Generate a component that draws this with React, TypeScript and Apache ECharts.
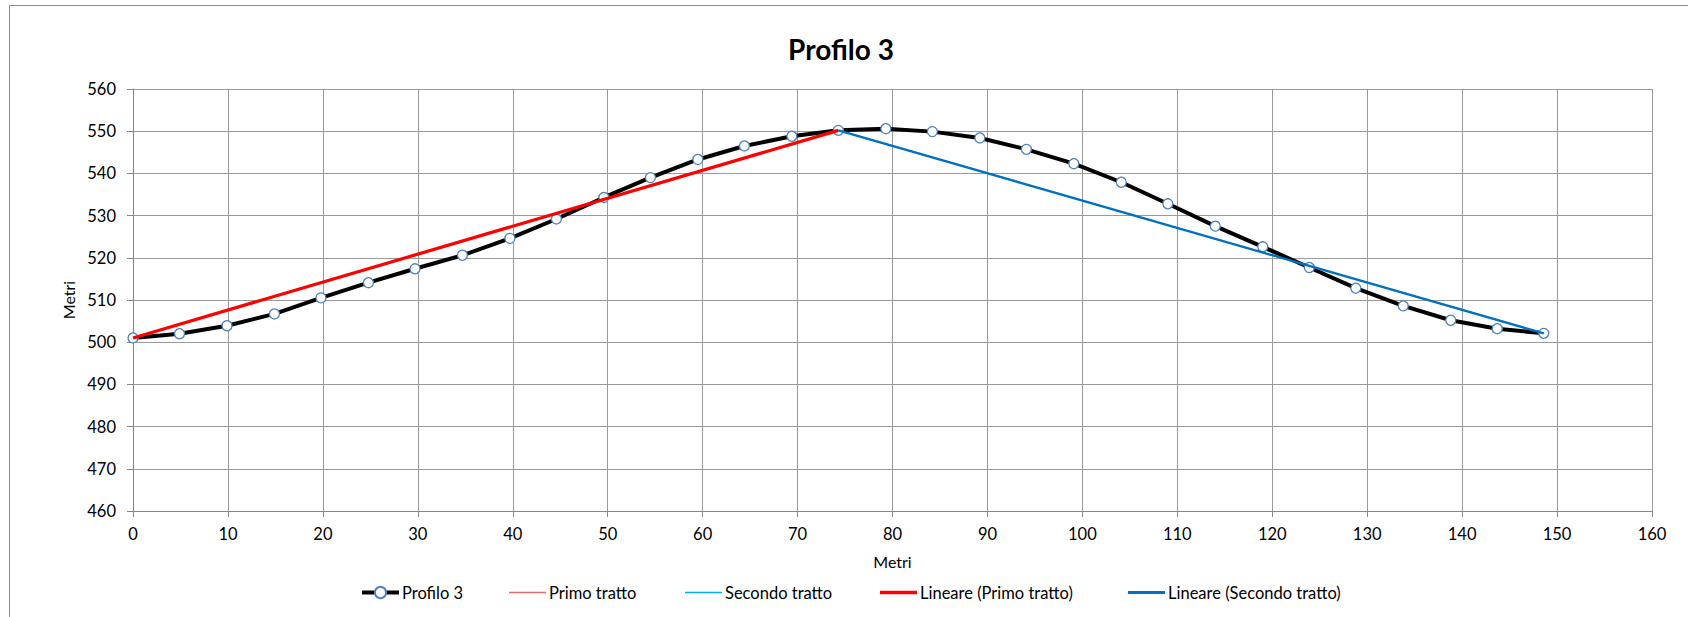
import React, { useEffect, useRef } from "react";
import * as echarts from "echarts";

// Profilo 3 — progressive distance (m) and elevation (m)
const distanze = [
  0, 4.9, 9.9, 14.9, 19.8, 24.8, 29.7, 34.7, 39.7, 44.6, 49.6, 54.5, 59.5, 64.4,
  69.4, 74.3, 79.3, 84.2, 89.2, 94.1, 99.1, 104.1, 109.0, 114.0, 119.0, 123.9,
  128.8, 133.8, 138.8, 143.7, 148.6,
];
const quote = [
  501.0, 502.0, 503.9, 506.7, 510.5, 514.1, 517.4, 520.6, 524.6, 529.2, 534.3,
  539.0, 543.3, 546.5, 548.8, 550.2, 550.6, 549.9, 548.4, 545.7, 542.3, 537.9,
  532.8, 527.5, 522.6, 517.7, 512.8, 508.6, 505.2, 503.2, 502.1,
];

// The two straight stretches of the profile (start → summit, summit → end)
const primoTrattoX = [0, 74.3];
const primoTrattoY = [501.0, 550.2];
const secondoTrattoX = [74.3, 148.6];
const secondoTrattoY = [550.2, 502.1];

// Axis settings
const xTicks = { min: 0, max: 160, interval: 10 };
const yTicks = { min: 460, max: 560, interval: 10 };

// Legend entries
const legendNames = [
  "Profilo 3",
  "Primo tratto",
  "Secondo tratto",
  "Lineare (Primo tratto)",
  "Lineare (Secondo tratto)",
];

const FONT = "Lato, 'Open Sans', sans-serif";

// Least-squares straight line over a set of points, evaluated at its x range
function trendLine(xs: number[], ys: number[]): number[][] {
  const n = xs.length;
  const mx = xs.reduce((a, b) => a + b, 0) / n;
  const my = ys.reduce((a, b) => a + b, 0) / n;
  let num = 0;
  let den = 0;
  for (let i = 0; i < n; i++) {
    num += (xs[i] - mx) * (ys[i] - my);
    den += (xs[i] - mx) * (xs[i] - mx);
  }
  const slope = num / den;
  const icpt = my - slope * mx;
  const x0 = Math.min(...xs);
  const x1 = Math.max(...xs);
  return [
    [x0, icpt + slope * x0],
    [x1, icpt + slope * x1],
  ];
}

const zip = (xs: number[], ys: number[]) => xs.map((x, i) => [x, ys[i]]);

// A flat bar used as a plain-line legend key
const barIcon = (h: number) => `path://M0,0L37,0L37,${h}L0,${h}Z`;

export default function App() {
  const ref = useRef<HTMLDivElement>(null);

  useEffect(() => {
    if (!ref.current) return;
    const chart = echarts.init(ref.current, undefined, { renderer: "svg" });

    const gridColor = "#9a9a9a";
    const axisColor = "#868686";

    const legendLeft = [360, 509, 685, 880, 1128];
    const legendIcons: (string | undefined)[] = [
      undefined,
      barIcon(1.5),
      barIcon(1.5),
      barIcon(3.6),
      barIcon(3),
    ];

    const legends = legendNames.map((name, i) => {
      const item: any = { name };
      if (legendIcons[i]) item.icon = legendIcons[i];
      if (i === 0) item.lineStyle = { width: 4 };
      return {
        left: legendLeft[i],
        top: 584,
        padding: 0,
        itemWidth: 37,
        itemHeight: 14,
        textStyle: { fontFamily: FONT, fontSize: 16.5, color: "#000000", padding: [0, 0, 0, -2] },
        data: [item],
      };
    });

    chart.setOption({
      animation: false,
      backgroundColor: "#ffffff",
      title: {
        text: "Profilo 3",
        left: 841,
        top: 35,
        textAlign: "center",
        padding: 0,
        textStyle: {
          fontFamily: FONT,
          fontWeight: "bold",
          fontSize: 28,
          color: "#000000",
        },
      },
      graphic: [
        {
          type: "rect",
          shape: { x: 9.5, y: 5.5, width: 1800, height: 800 },
          style: { fill: "none", stroke: "#8c8c8c", lineWidth: 1 },
          silent: true,
          z: -1,
        },
      ],
      grid: {
        left: 133,
        top: 89,
        width: 1519,
        height: 422,
        containLabel: false,
      },
      legend: legends,
      xAxis: {
        type: "value",
        min: xTicks.min,
        max: xTicks.max,
        interval: xTicks.interval,
        name: "Metri",
        nameLocation: "middle",
        nameGap: 42,
        nameTextStyle: { fontFamily: FONT, fontSize: 16, color: "#000000" },
        axisLine: { show: true, lineStyle: { color: axisColor, width: 1 } },
        axisTick: { show: true, inside: false, length: 6, lineStyle: { color: axisColor } },
        axisLabel: { fontFamily: FONT, fontSize: 16.5, color: "#000000", margin: 14 },
        splitLine: { show: true, lineStyle: { color: gridColor, width: 1 } },
      },
      yAxis: {
        type: "value",
        min: yTicks.min,
        max: yTicks.max,
        interval: yTicks.interval,
        name: "Metri",
        nameLocation: "middle",
        nameGap: 54,
        nameRotate: 90,
        nameTextStyle: { fontFamily: FONT, fontSize: 16, color: "#000000" },
        axisLine: { show: true, lineStyle: { color: axisColor, width: 1 } },
        axisTick: { show: true, inside: false, length: 6, lineStyle: { color: axisColor } },
        axisLabel: { fontFamily: FONT, fontSize: 16.5, color: "#000000", margin: 17 },
        splitLine: { show: true, lineStyle: { color: gridColor, width: 1 } },
      },
      series: [
        {
          name: "Profilo 3",
          type: "line",
          data: zip(distanze, quote),
          z: 2,
          symbol: "circle",
          symbolSize: 10,
          color: "#000000",
          lineStyle: { color: "#000000", width: 4 },
          itemStyle: { color: "#ffffff", borderColor: "#4f81bd", borderWidth: 1.3 },
        },
        {
          name: "Primo tratto",
          type: "line",
          data: zip(primoTrattoX, primoTrattoY),
          z: 3,
          symbol: "none",
          color: "#e07070",
          itemStyle: { color: "#e07070" },
          lineStyle: { color: "#e07070", width: 1 },
        },
        {
          name: "Secondo tratto",
          type: "line",
          data: zip(secondoTrattoX, secondoTrattoY),
          z: 3,
          symbol: "none",
          color: "#00b0f0",
          itemStyle: { color: "#00b0f0" },
          lineStyle: { color: "#00b0f0", width: 1 },
        },
        {
          name: "Lineare (Primo tratto)",
          type: "line",
          data: trendLine(primoTrattoX, primoTrattoY),
          z: 4,
          symbol: "none",
          color: "#ff0000",
          itemStyle: { color: "#ff0000" },
          lineStyle: { color: "#ff0000", width: 3.2 },
        },
        {
          name: "Lineare (Secondo tratto)",
          type: "line",
          data: trendLine(secondoTrattoX, secondoTrattoY),
          z: 4,
          symbol: "none",
          color: "#0070c0",
          itemStyle: { color: "#0070c0" },
          lineStyle: { color: "#0070c0", width: 2.4 },
        },
      ],
    });

    return () => chart.dispose();
  }, []);

  return (
    <div
      ref={ref}
      style={{ position: "fixed", left: 0, top: 0, width: 1688, height: 617, background: "#fff" }}
    />
  );
}
